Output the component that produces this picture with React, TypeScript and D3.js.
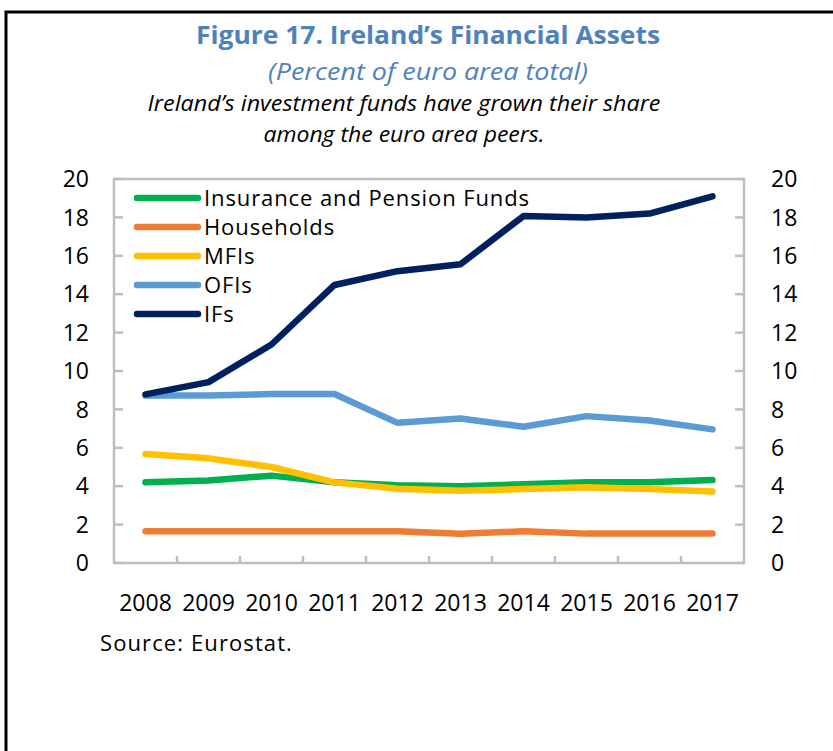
import React, { useRef, useEffect } from 'react';
import * as d3 from 'd3';

// Tamanho fixo da figura
const width = 833;
const height = 751;

const years = ['2008', '2009', '2010', '2011', '2012', '2013', '2014', '2015', '2016', '2017'];
const insurance = [4.2, 4.3, 4.55, 4.2, 4.05, 4.0, 4.1, 4.2, 4.2, 4.32];
const households = [1.65, 1.65, 1.65, 1.65, 1.65, 1.52, 1.65, 1.53, 1.53, 1.53];
const mfis = [5.68, 5.45, 5.0, 4.2, 3.87, 3.76, 3.85, 3.95, 3.85, 3.73];
const ofis = [8.72, 8.72, 8.8, 8.8, 7.3, 7.53, 7.1, 7.65, 7.42, 6.96];
const ifs = [8.78, 9.42, 11.38, 14.48, 15.2, 15.56, 18.07, 18.0, 18.2, 19.1];
const yTicks = [0, 2, 4, 6, 8, 10, 12, 14, 16, 18, 20];

const series = [
    { label: 'Insurance and Pension Funds', values: insurance, color: '#00b050' },
    { label: 'Households', values: households, color: '#ed7d31' },
    { label: 'MFIs', values: mfis, color: '#ffc000' },
    { label: 'OFIs', values: ofis, color: '#5b9bd5' },
    { label: 'IFs', values: ifs, color: '#002060' },
];

const font = '"Open Sans", sans-serif';

export default function App() {
    const svgRef = useRef<SVGSVGElement | null>(null);

    useEffect(() => {
        if (!svgRef.current) return;
        const svg = d3.select(svgRef.current);
        svg.selectAll('*').remove();

        const left = 114, right = 744, top = 179, bottom = 563;

        const x = d3.scaleBand().domain(years).range([left, right]);
        const y = d3.scaleLinear().domain([0, 20]).range([bottom, top]);
        const cx = (yr: string) => (x(yr) as number) + x.bandwidth() / 2;

        // Moldura externa
        svg.append('rect')
            .attr('x', 6).attr('y', 12)
            .attr('width', 840).attr('height', 760)
            .attr('fill', 'none').attr('stroke', '#000').attr('stroke-width', 3);

        // Títulos
        const titles = [
            { t: 'Figure 17. Ireland\u2019s Financial Assets', y: 44, size: 25, w: 464, weight: 'bold', style: 'normal', color: '#4f81bd' },
            { t: '(Percent of euro area total)', y: 80, size: 23, w: 320, weight: 'normal', style: 'italic', color: '#4f81bd' },
            { t: 'Ireland\u2019s investment funds have grown their share', y: 111, size: 21, w: 513, weight: 'normal', style: 'italic', color: '#000' },
            { t: 'among the euro area peers.', y: 142, size: 21, w: 281, weight: 'normal', style: 'italic', color: '#000' },
        ];
        titles.forEach((d, i) => {
            svg.append('text')
                .attr('x', i < 2 ? 428 : 404).attr('y', d.y)
                .attr('text-anchor', 'middle')
                .attr('textLength', d.w).attr('lengthAdjust', 'spacingAndGlyphs')
                .style('font-family', font).style('font-size', `${d.size}px`)
                .style('font-weight', d.weight).style('font-style', d.style)
                .style('fill', d.color)
                .text(d.t);
        });

        // Moldura do gráfico
        svg.append('rect')
            .attr('x', left).attr('y', top)
            .attr('width', right - left).attr('height', bottom - top)
            .attr('fill', 'none').attr('stroke', '#bfbfbf').attr('stroke-width', 2.5);

        // Ticks do eixo y (para dentro)
        yTicks.forEach(v => {
            svg.append('line').attr('x1', left).attr('x2', left + 9).attr('y1', y(v)).attr('y2', y(v))
                .attr('stroke', '#bfbfbf').attr('stroke-width', 2.5);
            svg.append('line').attr('x1', right - 9).attr('x2', right).attr('y1', y(v)).attr('y2', y(v))
                .attr('stroke', '#bfbfbf').attr('stroke-width', 2.5);
            svg.append('text').attr('x', 89).attr('y', y(v)).attr('dy', '0.36em')
                .attr('text-anchor', 'end')
                .style('font-family', font).style('font-size', '23px').style('fill', '#000')
                .text(v);
            svg.append('text').attr('x', 771).attr('y', y(v)).attr('dy', '0.36em')
                .attr('text-anchor', 'start')
                .style('font-family', font).style('font-size', '23px').style('fill', '#000')
                .text(v);
        });

        // Ticks do eixo x entre categorias
        years.slice(1).forEach(yr => {
            const xx = x(yr) as number;
            svg.append('line').attr('x1', xx).attr('x2', xx).attr('y1', bottom).attr('y2', bottom - 7)
                .attr('stroke', '#bfbfbf').attr('stroke-width', 2.5);
        });
        years.forEach(yr => {
            svg.append('text').attr('x', cx(yr)).attr('y', 611)
                .attr('text-anchor', 'middle')
                .style('font-family', font).style('font-size', '23px').style('fill', '#000')
                .text(yr);
        });

        // Linhas
        const line = d3.line<number>()
            .x((_, i) => cx(years[i]))
            .y(d => y(d));

        series.forEach(s => {
            svg.append('path')
                .attr('d', line(s.values))
                .attr('fill', 'none')
                .attr('stroke', s.color)
                .attr('stroke-width', 6.5)
                .attr('stroke-linecap', 'round')
                .attr('stroke-linejoin', 'round');
        });

        // Legenda
        series.forEach((s, i) => {
            const ly = 198 + i * 29;
            svg.append('line').attr('x1', 137).attr('x2', 198).attr('y1', ly).attr('y2', ly)
                .attr('stroke', s.color).attr('stroke-width', 6.5).attr('stroke-linecap', 'round');
            svg.append('text').attr('x', 204).attr('y', ly).attr('dy', '0.36em')
                .style('font-family', font).style('font-size', '22px').style('fill', '#000')
                .style('letter-spacing', '0.9px')
                .text(s.label);
        });

        // Fonte
        svg.append('text').attr('x', 100).attr('y', 651)
            .style('font-family', font).style('font-size', '22px').style('fill', '#000')
            .style('letter-spacing', '1.1px')
            .text('Source: Eurostat.');
    }, []);

    return (
        <div style={{ position: 'absolute', left: 0, top: 0, background: '#fff' }}>
            <svg ref={svgRef} width={width} height={height} style={{ display: 'block' }}></svg>
        </div>
    );
}
